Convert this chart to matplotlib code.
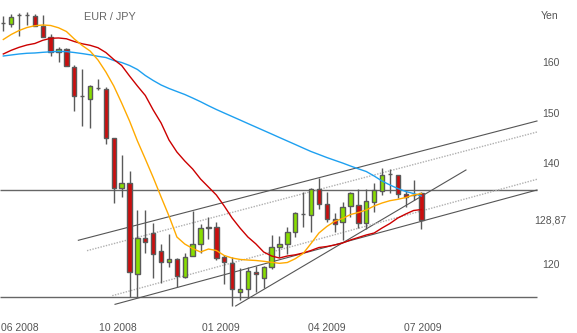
import matplotlib

matplotlib.use("Agg")
import matplotlib.pyplot as plt

plt.rcParams["font.family"] = ["Liberation Sans", "DejaVu Sans"]

# weekly EUR/JPY candles, index 0 = first visible week (mid 2008)
opens = [167.8, 167.53, 169.37, 169.31, 169.17, 167.25, 165.07, 162.10, 162.58, 159.13,
         153.33, 152.68, 154.97, 154.66, 144.95, 135.05, 136.04, 118.02, 125.15, 126.14,
         122.70, 120.40, 120.99, 117.55, 121.65, 123.96, 127.13, 127.45, 121.39, 120.20,
         114.58, 115.05, 118.54, 117.23, 119.41, 123.37, 124.02, 126.46, 129.96, 129.71,
         134.97, 131.94, 128.97, 128.44, 131.55, 131.75, 128.12, 132.40, 134.52, 137.82,
         137.69, 133.92, 133.73, 134.06]
highs = [169.17, 169.51, 169.71, 169.90, 169.57, 169.37, 165.55, 162.97, 162.78, 159.47,
         158.62, 155.51, 156.64, 155.05, 144.95, 141.65, 138.54, 130.76, 130.76, 128.12,
         124.02, 126.00, 121.19, 122.30, 130.62, 127.92, 129.43, 128.32, 121.85, 121.39,
         119.21, 119.53, 119.67, 119.67, 125.81, 125.61, 127.45, 130.42, 134.26, 135.17,
         137.03, 134.26, 130.10, 132.28, 134.26, 134.85, 134.85, 136.04, 139.01, 138.87,
         137.69, 134.52, 136.70, 134.38]
lows = [166.20, 167.05, 165.27, 167.39, 167.19, 165.07, 161.31, 160.12, 159.33, 150.42,
        147.39, 146.93, 154.52, 143.86, 132.08, 133.27, 113.59, 113.47, 122.30, 117.23,
        116.24, 119.41, 115.57, 117.35, 121.65, 122.18, 125.01, 120.85, 116.10, 111.81,
        112.93, 113.27, 114.58, 115.37, 119.01, 121.51, 121.98, 125.35, 127.45, 126.34,
        130.89, 128.44, 126.46, 124.81, 129.43, 127.13, 126.99, 130.42, 133.73, 134.06,
        133.07, 131.29, 132.74, 126.93]
closes = [167.75, 168.91, 169.33, 169.28, 167.19, 165.07, 162.10, 162.58, 159.33, 153.39,
          153.30, 155.31, 154.94, 145.01, 135.05, 136.04, 118.54, 125.15, 124.48, 121.98,
          120.40, 120.99, 117.75, 121.51, 123.96, 127.13, 127.45, 121.19, 120.46, 115.05,
          115.05, 118.68, 118.02, 119.41, 123.37, 123.96, 126.34, 130.10, 129.90, 134.97,
          131.94, 128.97, 127.98, 131.29, 134.06, 128.12, 132.54, 134.72, 137.69, 137.80,
          133.92, 133.39, 133.70, 128.87]

# moving averages, one value per week
ma_fast = [164.52, 165.51, 166.30, 166.89, 167.25, 167.39, 167.29, 166.84, 166.10, 164.62,
           163.33, 162.24, 160.46, 158.08, 155.31, 151.94, 148.38, 144.42, 140.85, 137.19,
           133.33, 129.57, 125.41, 124.02, 123.13, 122.44, 123.03, 122.74, 121.75, 121.25,
           120.97, 120.85, 120.76, 120.60, 120.40, 120.20, 120.36, 121.11, 122.14, 124.12,
           126.20, 127.49, 128.52, 129.07, 129.86, 130.26, 130.76, 131.55, 132.14, 132.60,
           132.87, 133.23, 133.73, 134.02]
ma_mid = [161.65, 162.38, 162.97, 163.43, 163.73, 164.36, 164.76, 164.82, 164.66, 164.12,
          163.67, 163.37, 162.89, 161.94, 160.56, 159.37, 157.29, 155.31, 153.43, 150.56,
          147.98, 144.62, 142.24, 140.46, 138.87, 136.89, 135.31, 133.73, 131.55, 129.17,
          127.19, 125.41, 124.06, 122.44, 121.65, 121.25, 121.65, 121.88, 122.24, 122.74,
          123.33, 123.53, 123.83, 124.22, 124.82, 125.31, 125.81, 126.20, 127.19, 128.08,
          129.17, 129.96, 130.66, 130.85]
ma_slow = [161.25, 161.45, 161.65, 161.79, 161.85, 161.98, 162.08, 162.16, 162.12, 161.94,
           161.73, 161.49, 161.19, 160.95, 160.36, 159.96, 159.37, 158.58, 157.39, 156.40,
           155.51, 154.82, 154.22, 153.63, 152.93, 152.20, 151.41, 150.66, 149.96, 149.27,
           148.58, 147.88, 147.19, 146.50, 145.81, 145.11, 144.42, 143.73, 143.03, 142.34,
           141.75, 141.15, 140.60, 140.06, 139.47, 138.91, 138.38, 137.49, 136.50, 135.71,
           135.01, 134.42, 134.02, 133.53]

# trend lines: (x0, y0, x1, y1) in week index / yen
trend_solid = [(9.51, 124.76, 67.64, 148.38),
               (14.16, 112.08, 67.64, 134.72),
               (29.45, 111.75, 58.64, 138.68)]
trend_dotted = [(10.61, 122.70, 67.64, 146.20),
                (13.81, 113.79, 67.64, 136.84)]
levels = [134.8, 113.5]

last_price = 128.87
xtick_pos = [2.12, 14.47, 27.59, 41.03, 53.19]
xtick_labels = ["06 2008", "10 2008", "01 2009", "04 2009", "07 2009"]
ytick_vals = [160, 150, 140, 120]

UP = "#88dd00"
DOWN = "#cc0e0e"
EDGE = "#5a5a5a"
TXT = "#555555"

fig = plt.figure(figsize=(5.77, 3.33), dpi=100)
ax = fig.add_axes([0, 21 / 333, 538 / 577, 312 / 333])
x_left, x_right = -0.42, 67.77
ax.set_xlim(x_left, x_right)
ax.set_ylim(110.56, 172.34)

for y in levels:
    ax.hlines(y, x_left, 67.64, color="#666666", lw=1.0, zorder=1)
for x0, y0, x1, y1 in trend_solid:
    ax.plot([x0, x1], [y0, y1], color="#555555", lw=0.8, zorder=1)
for x0, y0, x1, y1 in trend_dotted:
    ax.plot([x0, x1], [y0, y1], color="#b0b0b0", lw=1.0, ls=(0, (1, 1)), zorder=1)

xs = range(len(opens))
for i, o, h, l, c in zip(xs, opens, highs, lows, closes):
    ax.vlines(i, l, h, color=EDGE, lw=1.0, zorder=2)
    col = UP if c >= o else DOWN
    ax.bar(i, abs(c - o), bottom=min(o, c), width=0.55, color=col,
           edgecolor=EDGE, linewidth=1.0, zorder=3)

ax.plot(xs, ma_slow, color="#1ea0f0", lw=1.0, zorder=4)
ax.plot(xs, ma_mid, color="#cc0000", lw=1.0, zorder=4)
ax.plot(xs, ma_fast, color="#ffaa00", lw=1.0, zorder=4)

for s in ax.spines.values():
    s.set_visible(False)
ax.set_xticks(xtick_pos)
ax.set_xticklabels(xtick_labels, fontsize=7.5, color=TXT)
ax.tick_params(axis="x", length=0, pad=8)
ax.yaxis.tick_right()
ax.set_yticks(ytick_vals + [last_price])
ax.set_yticklabels([str(v) for v in ytick_vals] + [f"{last_price:.2f}".replace(".", ",")],
                   fontsize=7.5, color=TXT)
for lab in ax.get_yticklabels():
    lab.set_horizontalalignment("center")
ax.tick_params(axis="y", length=0, pad=9)

ax.text(110 / 538, 1 - 16.7 / 312, "EUR / JPY", transform=ax.transAxes,
        ha="center", va="center", fontsize=7.8, color="#666666")
fig.text(549.7 / 577, 1 - 16 / 333, "Yen", ha="center", va="center",
         fontsize=7.5, color=TXT)

fig.savefig("out.png", dpi=100)
